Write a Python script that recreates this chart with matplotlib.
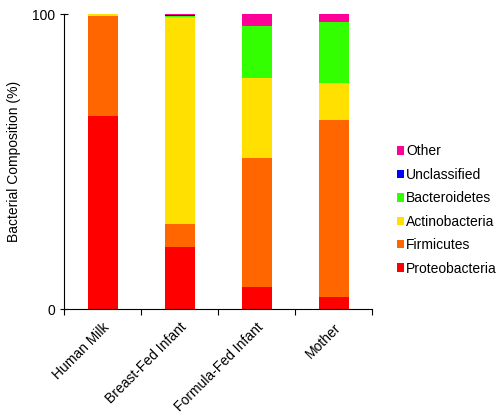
import matplotlib.pyplot as plt
import numpy as np

plt.rcParams['font.family'] = ['Liberation Sans', 'DejaVu Sans']

categories = ["Human Milk", "Breast-Fed Infant", "Formula-Fed Infant", "Mother"]
phyla = ["Proteobacteria", "Firmicutes", "Actinobacteria", "Bacteroidetes", "Unclassified", "Other"]
colors = ["#FF0000", "#FF6600", "#FFE000", "#33FF00", "#0000FF", "#FF0099"]

proteobacteria = [65.4, 21.0, 7.5, 4.1]
firmicutes = [34.1, 7.8, 43.7, 59.9]
actinobacteria = [0.5, 70.2, 27.1, 12.6]
bacteroidetes = [0.0, 0.3, 17.6, 20.8]
unclassified = [0.0, 0.3, 0.0, 0.0]
other = [0.0, 0.4, 4.1, 2.6]
values = [proteobacteria, firmicutes, actinobacteria, bacteroidetes, unclassified, other]

fig = plt.figure(figsize=(5.02, 4.16), dpi=100)
ax = fig.add_axes([0.1275, 0.257, 0.614, 0.709])

x = np.arange(len(categories))
bottom = np.zeros(len(categories))
handles = []
for name, vals, c in zip(phyla, values, colors):
    b = ax.bar(x, vals, 0.39, bottom=bottom, color=c, label=name)
    handles.append(b)
    bottom += np.array(vals)

ax.set_xlim(-0.5, len(categories) - 0.5)
ax.set_ylim(0, 100)
ax.set_yticks([0, 100])
ax.set_xticks(np.arange(len(categories) + 1) - 0.5, minor=False)
ax.set_xticklabels([])
ax.set_xticks(x, minor=True)
ax.set_xticklabels(categories, minor=True, rotation=45, ha="right", rotation_mode="anchor", fontsize=10)
ax.tick_params(axis="x", which="minor", length=0, pad=8)
ax.tick_params(axis="x", which="major", length=4, direction="out")
ax.tick_params(axis="y", length=6, direction="inout", labelsize=10)
ax.spines["top"].set_visible(False)
ax.spines["right"].set_visible(False)
ax.set_ylabel("Bacterial Composition (%)", fontsize=10, labelpad=8)

fig.legend(handles[::-1], phyla[::-1], loc="upper left", bbox_to_anchor=(0.765, 0.683),
           frameon=False, fontsize=10, handlelength=0.55, handleheight=0.55,
           handletextpad=0.15, labelspacing=0.68)

fig.savefig("out.png", dpi=100)
